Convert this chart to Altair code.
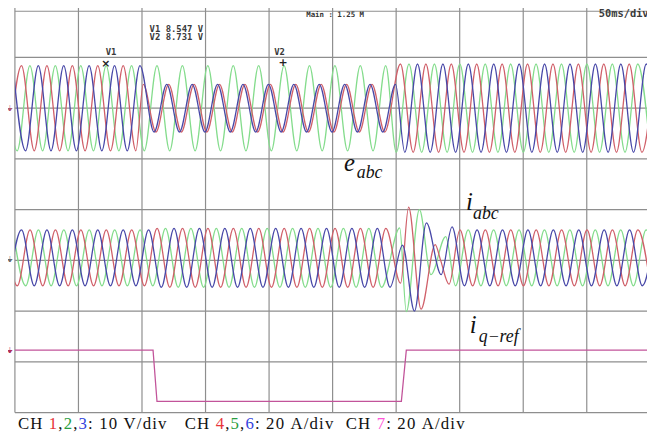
import altair as alt
import pandas as pd

# ---------------- screen (oscilloscope) ----------------
PERIOD = 20.0                      # ms, 50 Hz
grid_t = [0, 50, 100, 150, 200, 250, 300, 350, 400, 450, 500]   # ms (50 ms/div)
grid_v = [0, 1, 2, 3, 4, 5, 6, 7, 8]                            # divisions

# ---------------- e_abc (CH1..3, 10 V/div) ----------------
E_CENTER = 6.0
e_seg_start = [-10, 100, 300]
e_seg_end = [100, 300, 510]
e_amp_red = [0.84, 0.47, 0.87]
e_amp_green = [0.84, 0.84, 0.87]
e_amp_blue = [0.84, 0.47, 0.87]
e_peak_red = [5.2, 121.0, 3.4]
e_peak_green = [11.8, 111.8, 10.1]
e_peak_blue = [18.4, 119.5, 16.8]

# ---------------- i_abc (CH4..6, 20 A/div) ----------------
I_CENTER = 3.05
i_seg_start = [-10, 110, 346]
i_seg_end = [110, 298, 510]
i_amp_red = [0.55, 0.58, 0.55]
i_amp_green = [0.55, 0.58, 0.55]
i_amp_blue = [0.55, 0.58, 0.55]
i_peak_red = [11.9, 11.9, 10.2]
i_peak_green = [18.5, 18.5, 16.7]
i_peak_blue = [5.2, 5.2, 3.7]
# transient after the voltage recovery (extremes)
i_tr_red_t = [303.5, 309.8, 319.6, 330.7, 335.0, 341.6]
i_tr_red_v = [2.55, 4.05, 2.04, 3.31, 3.00, 2.53]
i_tr_green_t = [302.8, 308.0, 318.3, 327.4, 339.0]
i_tr_green_v = [3.64, 1.99, 4.00, 2.72, 3.47]
i_tr_blue_t = [305.0, 314.4, 323.8, 335.4, 344.0]
i_tr_blue_v = [3.30, 2.00, 3.74, 2.72, 3.66]

# ---------------- i_q-ref (CH7, 20 A/div) ----------------
iq_t = [-10, 108.7, 111.8, 304.1, 308.0, 510]
iq_v = [1.23, 1.23, 0.22, 0.22, 1.23, 1.23]

trace_colors = {"red": "#d0606a", "green": "#84dc8c", "blue": "#4848a8"}


def extremes(starts, ends, amps, peaks, center):
    pts = []
    for s, e, a, p in zip(starts, ends, amps, peaks):
        k = int((s - p) // (PERIOD / 2)) - 1
        while True:
            t = p + k * PERIOD / 2
            if t >= e:
                break
            if t >= s:
                sign = 1 if k % 2 == 0 else -1
                pts.append((t, center + sign * a))
            k += 1
    return pts


rows = []
for name, amps, peaks in [("red", e_amp_red, e_peak_red),
                          ("green", e_amp_green, e_peak_green),
                          ("blue", e_amp_blue, e_peak_blue)]:
    for t, v in extremes(e_seg_start, e_seg_end, amps, peaks, E_CENTER):
        rows.append({"t": t, "v": v, "trace": "e_" + name, "col": name})

tr = {"red": (i_tr_red_t, i_tr_red_v), "green": (i_tr_green_t, i_tr_green_v),
      "blue": (i_tr_blue_t, i_tr_blue_v)}
for name, amps, peaks in [("red", i_amp_red, i_peak_red),
                          ("green", i_amp_green, i_peak_green),
                          ("blue", i_amp_blue, i_peak_blue)]:
    pts = extremes(i_seg_start, i_seg_end, amps, peaks, I_CENTER)
    pts += list(zip(*tr[name]))
    pts.sort()
    for t, v in pts:
        rows.append({"t": t, "v": v, "trace": "i_" + name, "col": name})

waves = pd.DataFrame(rows)
iq = pd.DataFrame({"t": iq_t, "v": iq_v})

# ---------------- scales ----------------
xs = alt.Scale(domain=[0, 497.4], nice=False, zero=False)
ys = alt.Scale(domain=[-0.3504, 7.9221], nice=False, zero=False)
X = lambda f="t": alt.X(f + ":Q", scale=xs, axis=None)
Y = lambda f="v": alt.Y(f + ":Q", scale=ys, axis=None)

GRID = "#8e8e8e"
vgrid = alt.Chart(pd.DataFrame({"t": grid_t, "v0": [0] * len(grid_t), "v1": [8] * len(grid_t)})).mark_rule(
    color=GRID, strokeWidth=1.2).encode(x=X(), y=Y("v0"), y2="v1:Q")
hgrid = alt.Chart(pd.DataFrame({"v": grid_v, "t0": [0] * len(grid_v), "t1": [500] * len(grid_v)})).mark_rule(
    color=GRID, strokeWidth=1.2).encode(y=Y(), x=X("t0"), x2="t1:Q")
topb = alt.Chart(pd.DataFrame({"v": [7.91], "t0": [0], "t1": [500]})).mark_rule(
    color=GRID, strokeWidth=1.2).encode(y=Y(), x=X("t0"), x2="t1:Q")

# draw order: green, red, blue
layers_w = []
for name in ["green", "red", "blue"]:
    layers_w.append(alt.Chart(waves[waves.col == name]).mark_line(
        interpolate="monotone", strokeWidth=1.3, clip=True, color=trace_colors[name]).encode(
        x=X(), y=Y(), detail="trace:N", order=alt.Order("t:Q")))

iq_line = alt.Chart(iq).mark_line(color="#c2549a", strokeWidth=1.3, clip=True).encode(
    x=X(), y=Y(), order=alt.Order("t:Q"))

# ---------------- texts ----------------
mono = pd.DataFrame({
    "t": [106.0, 106.0, 71.4, 204.0, 459.4],
    "v": [7.51, 7.34, 7.05, 7.05, 7.80],
    "text": ["V1  8.547 V", "V2  8.731 V", "V1", "V2", "50ms/div"],
    "size": [9, 9, 9, 9, 10.5],
})
mono_t = alt.Chart(mono).mark_text(font="DejaVu Sans Mono", align="left", baseline="alphabetic",
                                   fontWeight="bold", color="#3a3a3a").encode(
    x=X(), y=Y(), text="text:N", size=alt.Size("size:Q", scale=None))
main_t = alt.Chart(pd.DataFrame({"t": [229.2], "v": [7.80], "text": ["Main : 1.25 M"]})).mark_text(
    font="DejaVu Sans Mono", align="left", baseline="alphabetic", fontSize=7.5, fontWeight="bold",
    color="#333333").encode(x=X(), y=Y(), text="text:N")
cursors = alt.Chart(pd.DataFrame({"t": [71.5, 211.0], "v": [6.87, 6.89], "text": ["×", "+"]})).mark_text(
    font="DejaVu Sans", align="center", baseline="middle", fontSize=11, fontWeight="bold",
    color="#222222").encode(x=X(), y=Y(), text="text:N")

big = pd.DataFrame({"t": [259.0, 355.0, 358.0], "v": [4.77, 4.0, 1.56], "text": ["e", "i", "i"]})
big_t = alt.Chart(big).mark_text(font="Liberation Serif", fontStyle="italic", fontSize=25, align="left",
                                 baseline="alphabetic", color="#111111").encode(x=X(), y=Y(), text="text:N")
sub = pd.DataFrame({"t": [269.0, 360.5, 365.0], "v": [4.62, 3.82, 1.40], "text": ["abc", "abc", "q\u2212ref"]})
sub_t = alt.Chart(sub).mark_text(font="Liberation Serif", fontStyle="italic", fontSize=18, align="left",
                                 baseline="alphabetic", color="#111111").encode(x=X(), y=Y(), text="text:N")

# bottom channel legend, char by char (Times metrics)
W = {"C": .667, "H": .722, " ": .25, ",": .25, ":": .278, "V": .722, "/": .278, "d": .5, "i": .278,
     "v": .5, "A": .722}
footer_groups = [
    (18, [("CH ", "#111111"), ("1", "#e8353a"), (",", "#111111"), ("2", "#2a9d40"), (",", "#111111"),
          ("3", "#3344dd"), (": 10 V/div", "#111111")]),
    (187, [("CH ", "#111111"), ("4", "#e8353a"), (",", "#111111"), ("5", "#2a9d40"), (",", "#111111"),
           ("6", "#3344dd"), (": 20 A/div", "#111111")]),
    (350, [("CH ", "#111111"), ("7", "#ff55d8"), (": 20 A/div", "#111111")]),
]
FS = 17
TRACK = 1.15
frows = []
for x0, parts in footer_groups:
    x = x0
    for txt, col in parts:
        for ch in txt:
            if ch != " ":
                frows.append({"t": (x - 15) / 1.2867, "v": -0.331, "text": ch, "c": col})
            x += W.get(ch, 0.5) * FS + TRACK
footer = alt.Chart(pd.DataFrame(frows)).mark_text(font="Liberation Serif", fontSize=FS, align="left",
                                                   baseline="alphabetic").encode(
    x=X(), y=Y(), text="text:N", color=alt.Color("c:N", scale=None))

# ground markers at the left edge
marks = alt.Chart(pd.DataFrame({"t": [-3.6, -3.6, -3.6], "v": [5.98, 3.0, 1.22],
                                "text": ["⏚", "⏚", "⏚"], "c": ["#b05a70", "#6a6a6a", "#b0305a"]})).mark_text(
    font="DejaVu Sans", fontSize=8, align="center", baseline="middle").encode(
    x=X(), y=Y(), text="text:N", color=alt.Color("c:N", scale=None))

chart = alt.layer(vgrid, hgrid, topb, *layers_w, iq_line, mono_t, main_t, cursors, big_t, sub_t,
                  footer, marks).properties(
    width=640, height=425, padding={"left": 7, "top": 0, "right": 0, "bottom": 0}, autosize="none",
    background="white"
).configure_view(stroke=None)

chart.save("out.html", embed_options={"renderer": "svg", "actions": False})
